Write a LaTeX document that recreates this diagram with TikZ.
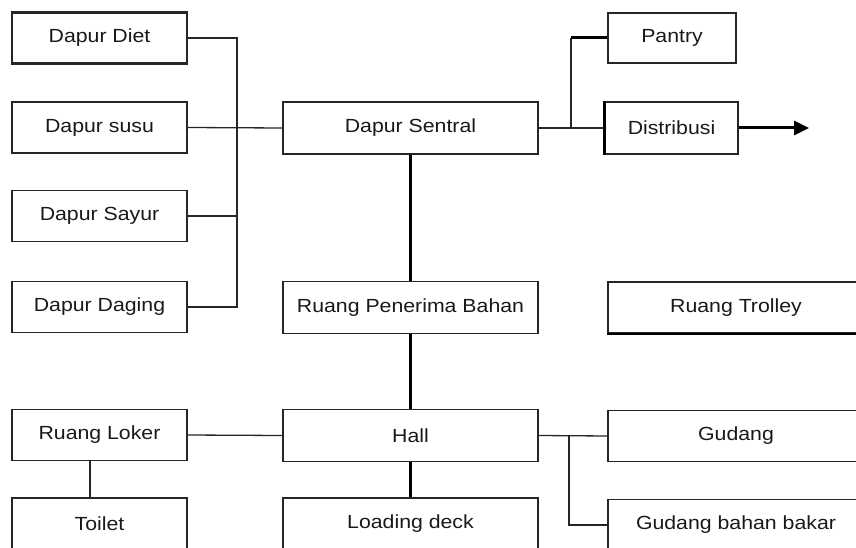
\documentclass[tikz,border=0pt]{standalone}
\usepackage{fontspec}
\setmainfont{Liberation Sans}[FakeStretch=1.12]
\usetikzlibrary{arrows.meta}
\begin{document}
\begin{tikzpicture}[x=1pt,y=-1pt,
  room/.style={draw=black!85,line width=1.3pt,fill=white,inner sep=0pt,
    text=black!90,font=\fontsize{19}{22}\selectfont},
  side/.style={room,minimum width=175pt,minimum height=51pt},
  mid/.style={room,minimum width=255pt,minimum height=52pt},
  wide/.style={room,minimum width=256pt,minimum height=51pt},
  link/.style={line width=1.3pt,draw=black!85},
  spine/.style={line width=3pt,draw=black}]
\useasboundingbox (0,0) rectangle (856,548);
\clip (0,0) rectangle (856,548);
\fill[white] (0,0) rectangle (856,548);

% kitchen column
\node[side,line width=2.2pt] (diet)   at (99.5,38)  {Dapur Diet};
\node[side]   (susu)   at (99.5,127.5) {Dapur susu};
\node[side]   (sayur)  at (99.5,216)  {Dapur Sayur};
\node[side]   (daging) at (99.5,307)  {Dapur Daging};

% central column
\node[mid] (sentral)  at (410.5,128)   {Dapur Sentral};
\node[mid] (penerima) at (410.5,307.5) {Ruang Penerima Bahan};
\node[mid] (hall)     at (410.5,435.5) {Hall};
\node[mid] (loading)  at (410.5,524)   {Loading deck};

% right column
\node[room,minimum width=128pt,minimum height=50pt] (pantry) at (672,38) {Pantry};
\node[room,minimum width=133pt,minimum height=52pt] (distribusi) at (671.5,128) {Distribusi};
\node[wide] (trolley) at (736,307.5) {Ruang Trolley};
\node[wide] (gudang)  at (736,436)   {Gudang};
\node[wide] (bakar)   at (736,525)   {Gudang bahan bakar};

% lower left
\node[side] (loker)  at (99.5,435) {Ruang Loker};
\node[side] (toilet) at (99.5,523.5) {Toilet};

% heavier edges
\draw[line width=2.4pt] (distribusi.north west) -- (distribusi.south west);
\draw[line width=2.2pt] (trolley.south west) -- (trolley.south east);

% kitchens feed the central kitchen
\coordinate (kbus) at (237,38);
\draw[link] (diet.east) -- (kbus) -- (kbus |- daging.east) -- (daging.east);
\draw[link] (sayur.east) -- (kbus |- sayur.east);
\draw[link] (susu.east) -- (sentral.west);

% distribution branch
\coordinate (dbus) at (571,128);
\draw[link] (sentral.east) -- (distribusi.west);
\draw[link] (dbus) -- (dbus |- pantry.west);
\draw[spine] (dbus |- pantry.west) -- (pantry.west);
\coordinate (out) at (809,128);
\draw[spine,-{Triangle[length=15pt,width=14pt]}] (distribusi.east) -- (out);

% main spine
\draw[spine] (sentral.south) -- (penerima.north);
\draw[spine] (penerima.south) -- (hall.north);
\draw[spine] (hall.south) -- (loading.north);

% lower connections
\draw[link] (loker.east) -- (hall.west);
\draw[link] ([xshift=-9.5pt]loker.south) -- ([xshift=-9.5pt]toilet.north);
\coordinate (gbus) at (569,436);
\draw[link] (hall.east) -- (gudang.west);
\draw[link] (gbus) -- (gbus |- bakar.west) -- (bakar.west);
\end{tikzpicture}
\end{document}
